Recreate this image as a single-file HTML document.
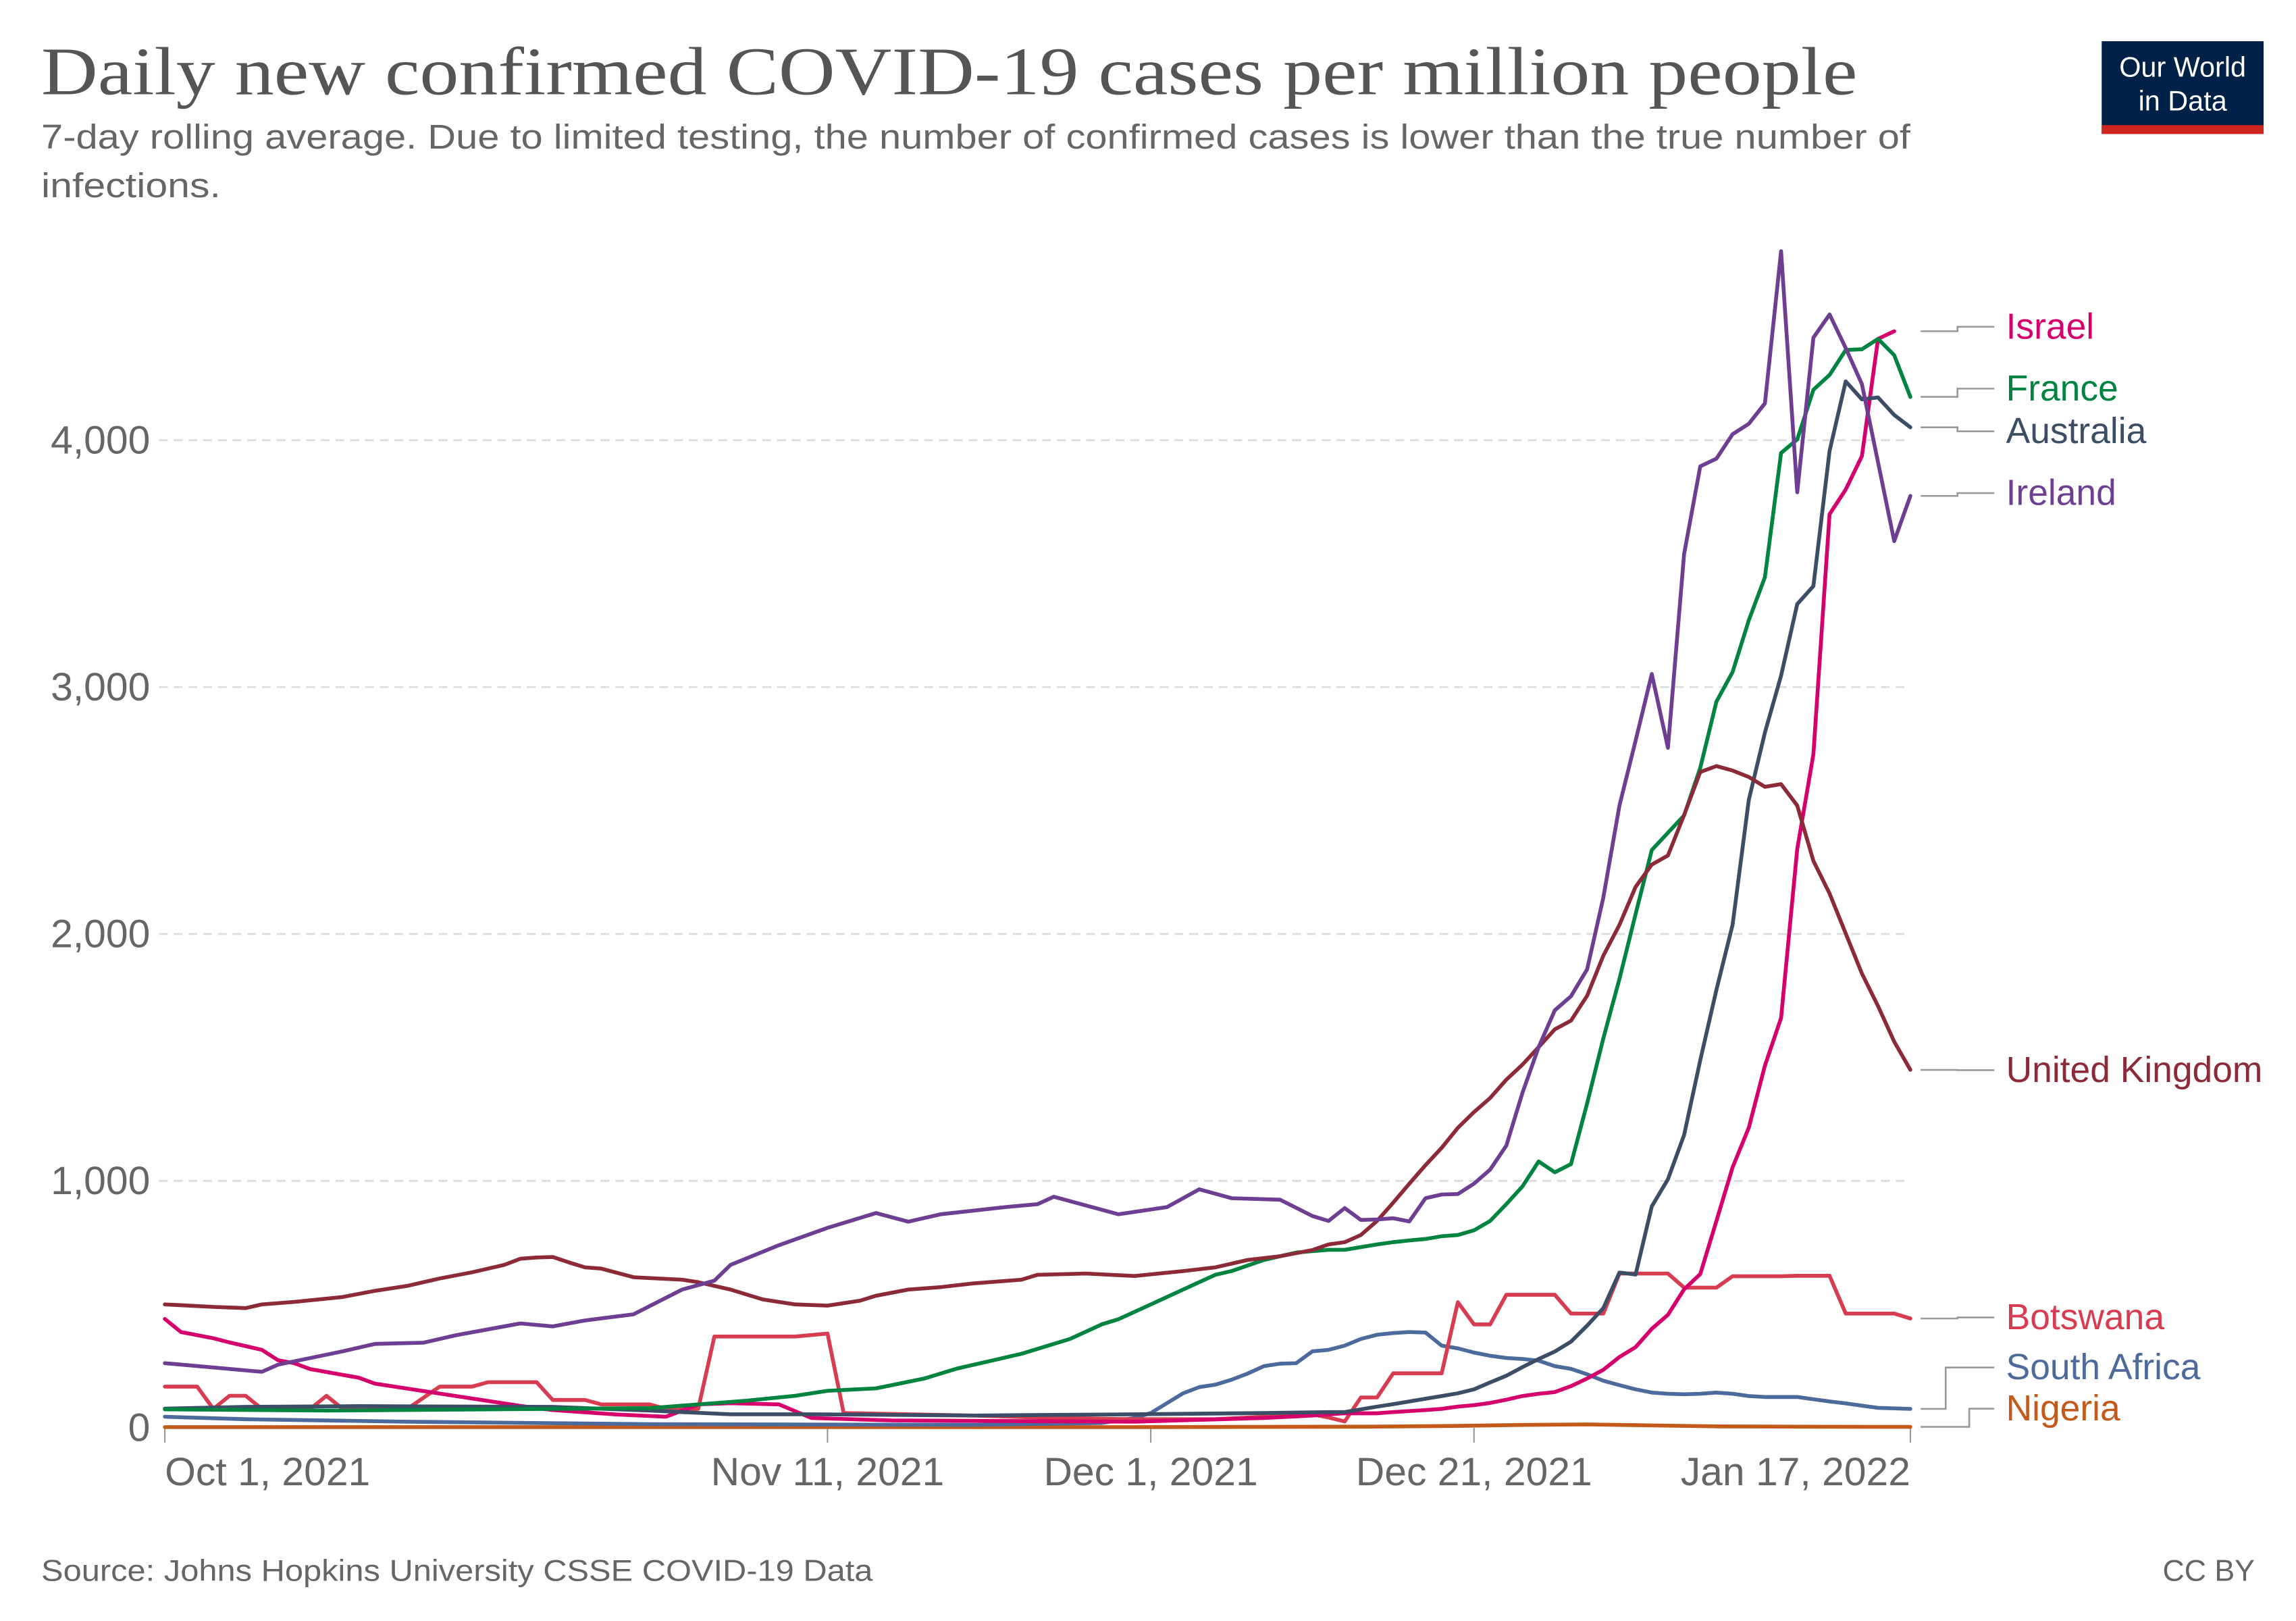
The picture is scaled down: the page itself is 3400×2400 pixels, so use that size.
<!DOCTYPE html>
<html><head><meta charset="utf-8">
<style>
html,body{margin:0;padding:0;background:#fff;}
svg{display:block;}
text{font-family:"Liberation Sans",sans-serif;}
</style></head>
<body>
<svg id="chart" width="3400" height="2400" viewBox="0 0 1560 1101.2" xmlns="http://www.w3.org/2000/svg">
<rect x="0" y="0" width="1560" height="1101.2" fill="#fff"/>
<text x="28" y="64" style="font-family:'Liberation Serif',serif" font-size="46" fill="#555" textLength="1234" lengthAdjust="spacingAndGlyphs">Daily new confirmed COVID-19 cases per million people</text>
<text x="28" y="101" font-size="23.5" fill="#666" textLength="1270" lengthAdjust="spacingAndGlyphs">7-day rolling average. Due to limited testing, the number of confirmed cases is lower than the true number of</text>
<text x="28" y="134" font-size="23.5" fill="#666" textLength="122" lengthAdjust="spacingAndGlyphs">infections.</text>
<g>
<rect x="1428" y="28" width="110" height="63" fill="#002147"/>
<rect x="1428" y="85" width="110" height="6" fill="#ce261e"/>
<text x="1483" y="52" font-size="19" fill="#fff" text-anchor="middle">Our World</text>
<text x="1483" y="75" font-size="19" fill="#fff" text-anchor="middle">in Data</text>
</g>
<g id="grid"></g>
<g id="series"></g>
<g id="labels"></g>
<text x="28" y="1074" font-size="20.5" fill="#666" textLength="565" lengthAdjust="spacingAndGlyphs">Source: Johns Hopkins University CSSE COVID-19 Data</text>
<text x="1532" y="1074" font-size="20.5" fill="#666" text-anchor="end">CC BY</text>
</svg>
<script>
const NS='http://www.w3.org/2000/svg';
const yTicks=[0,1000,2000,3000,4000];
const yTickLabels=['0','1,000','2,000','3,000','4,000'];
const xTickDays=[0,41,61,81,108];
const xTickLabels=['Oct 1, 2021','Nov 11, 2021','Dec 1, 2021','Dec 21, 2021','Jan 17, 2022'];
const seriesNames=['Israel','France','Australia','Ireland','United Kingdom','Botswana','South Africa','Nigeria'];
const seriesColors=['#d6006d','#00843f','#3c4e66','#6d3e91','#8c2b37','#d73c50','#4c6a9c','#c45a1a'];

const ukDays=[0,3,5,6,8,11,13,15,17,19,21,22,23,24,25,26,27,29,32,33,35,37,39,41,43,44,46,48,50,53,54,57,60,63,65,67,69,71,72,73,74,75,76,77,78,79,80,81,82,83,84,85,86,87,88,89,90,91,92,93,94,95,96,97,98,99,100,101,102,103,104,105,106,107,108];
const ukValues=[500,490,485,500,510,530,555,575,605,630,660,685,690,692,670,650,645,610,600,590,560,520,500,495,515,535,560,570,585,600,620,625,615,635,650,680,695,720,743,752,781,838,912,989,1064,1134,1215,1279,1336,1410,1471,1542,1614,1649,1750,1912,2037,2191,2281,2318,2482,2656,2680,2662,2636,2596,2607,2520,2296,2164,2002,1840,1708,1564,1450];

const ieDays=[0,6,7,11,13,16,18,22,24,26,29,32,34,35,38,41,44,46,48,52,54,55,59,62,64,66,69,71,72,73,74,75,76,77,78,79,80,81,82,83,84,85,86,87,88,89,90,91,92,93,94,95,96,97,98,99,100,101,102,103,104,105,106,107,108];
const ieValues=[262,227,256,310,340,345,375,423,411,435,460,560,596,660,740,810,870,835,865,894,906,936,865,894,966,930,924,858,838,890,842,844,849,836,930,945,947,989,1046,1143,1357,1542,1691,1748,1857,2147,2520,2783,3053,2754,3539,3894,3925,4024,4066,4149,4765,3789,4415,4509,4373,4227,3910,3591,3774];

const frDays=[0,10,20,30,33,36,39,41,44,47,49,51,53,56,58,59,61,63,65,66,68,70,72,73,74,75,76,77,78,79,80,81,82,83,84,85,86,87,88,89,90,91,92,93,94,95,96,97,98,99,100,101,102,103,104,105,106,107,108];
const frValues=[75,70,75,80,95,110,130,150,160,200,240,270,300,360,420,440,500,560,620,635,680,710,721,721,732,743,752,759,765,776,781,800,838,906,978,1079,1035,1068,1314,1577,1818,2081,2340,2410,2480,2673,2941,3061,3270,3445,3948,4003,4204,4264,4365,4368,4410,4344,4175];

const auDays=[0,5,12,24,30,35,40,50,60,68,72,73,74,75,76,77,78,79,80,81,82,83,84,85,86,87,88,89,90,91,92,93,94,95,96,97,98,99,100,101,102,103,104,105,106,107,108];
const auValues=[78,85,88,85,70,55,55,50,55,60,64,64,75,86,96,107,118,129,140,156,184,211,246,279,309,349,414,485,629,621,897,1007,1186,1489,1774,2037,2542,2816,3046,3336,3409,3956,4238,4165,4173,4102,4052];

const ilDays=[0,1,3,4,6,7,8,9,12,13,16,19,22,24,28,31,33,35,38,40,45,60,68,71,73,74,75,76,77,78,79,80,81,82,83,84,85,86,87,88,89,90,91,92,93,94,95,96,97,98,99,100,101,102,103,104,105,106,107];
const ilValues=[441,388,363,346,316,274,262,238,203,179,149,119,89,72,54,45,95,100,95,40,30,25,40,50,59,59,59,64,68,72,77,86,92,101,114,129,138,145,169,200,235,287,327,401,458,561,623,838,1055,1215,1467,1660,2344,2728,3700,3800,3935,4410,4441];

const bwDays=[0,2,3,4,5,6,9,10,11,15,17,19,20,23,24,26,27,30,31,33,34,39,41,42,50,55,60,65,68,70,71,72,73,74,75,76,79,80,81,82,83,86,87,89,90,93,94,96,97,100,101,103,104,107,108];
const bwValues=[167,167,77,130,130,77,77,130,77,77,167,167,185,185,113,113,95,95,77,77,370,370,382,60,50,40,35,35,45,60,55,42,26,123,123,221,221,509,419,419,539,539,463,463,625,625,568,568,614,614,616,616,463,463,443];

const zaDays=[0,5,15,30,50,58,60,61,62,63,64,65,66,67,68,69,70,71,72,73,74,75,76,77,78,79,80,81,82,83,84,85,86,87,88,89,90,91,92,93,94,95,96,97,98,99,100,101,102,103,104,105,106,107,108];
const zaValues=[45,35,25,15,12,20,40,60,100,140,165,175,195,220,250,260,262,310,316,333,360,377,384,388,386,333,322,305,292,283,279,272,250,239,217,191,173,156,143,138,136,138,143,138,129,125,125,125,116,107,99,90,81,79,77];

const ngDays=[0,30,60,75,80,84,88,92,96,100,108];
const ngValues=[3,3,3,5,8,12,14,10,6,5,4];

const allDays=[ilDays,frDays,auDays,ieDays,ukDays,bwDays,zaDays,ngDays];
const allValues=[ilValues,frValues,auValues,ieValues,ukValues,bwValues,zaValues,ngValues];

const X0=112,X1=1298,D1=108,Y0=970,YPER=0.16775;
function xs(d){return X0+(X1-X0)*d/D1;}
function ys(v){return Y0-v*YPER;}
function mk(tag,attrs,parent){const e=document.createElementNS(NS,tag);for(const k in attrs)e.setAttribute(k,attrs[k]);parent.appendChild(e);return e;}

const grid=document.getElementById('grid');
yTicks.forEach((t,i)=>{
  if(t>0){
    const l=mk('line',{x1:108,x2:X1,y1:ys(t),y2:ys(t),stroke:'#ddd','stroke-width':1.3,'stroke-dasharray':'6,4'},grid);
    
    
  }
  const tx=mk('text',{x:102,y:ys(t)+9,'font-size':27,fill:'#666','text-anchor':'end'},grid);
  tx.textContent=yTickLabels[i];
  
  
});
xTickDays.forEach((d,i)=>{
  const l=mk('line',{x1:xs(d),x2:xs(d),y1:970,y2:980,stroke:'#999','stroke-width':1},grid);
  
  
  const anchor=i===0?'start':(i===xTickDays.length-1?'end':'middle');
  const tx=mk('text',{x:xs(d),y:1009,'font-size':27,fill:'#666','text-anchor':anchor},grid);
  tx.textContent=xTickLabels[i];
  
  
});

const sg=document.getElementById('series');
const order=[7,6,5,0,2,1,4,3];
order.forEach(i=>{
  const ds=allDays[i],vs=allValues[i];
  let d='';
  for(let k=0;k<ds.length;k++){d+=(k?'L':'M')+xs(ds[k]).toFixed(2)+','+ys(vs[k]).toFixed(2);}
  const p=mk('path',{d:d,fill:'none',stroke:seriesColors[i],'stroke-width':2.6,'stroke-linejoin':'round','stroke-linecap':'round'},sg);
  
  
});

const labelY=[222,264,293,335,727,895,929,957];
const lg=document.getElementById('labels');
seriesNames.forEach((n,i)=>{
  const ds=allDays[i],vs=allValues[i];
  const endY=ys(vs[vs.length-1]);
  const ly=labelY[i];
  const x0=1305,xm=(i===6?1322:(i===7?1338:1330)),x1=1355;
  const c=mk('path',{d:'M'+x0+','+endY.toFixed(1)+'L'+xm+','+endY.toFixed(1)+'L'+xm+','+ly+'L'+x1+','+ly,fill:'none',stroke:'#999','stroke-width':1.2},lg);
  
  
  const t=mk('text',{x:1363,y:ly+8,'font-size':24.5,fill:seriesColors[i]},lg);
  t.textContent=n;
  
  
});
</script>
</body></html>
